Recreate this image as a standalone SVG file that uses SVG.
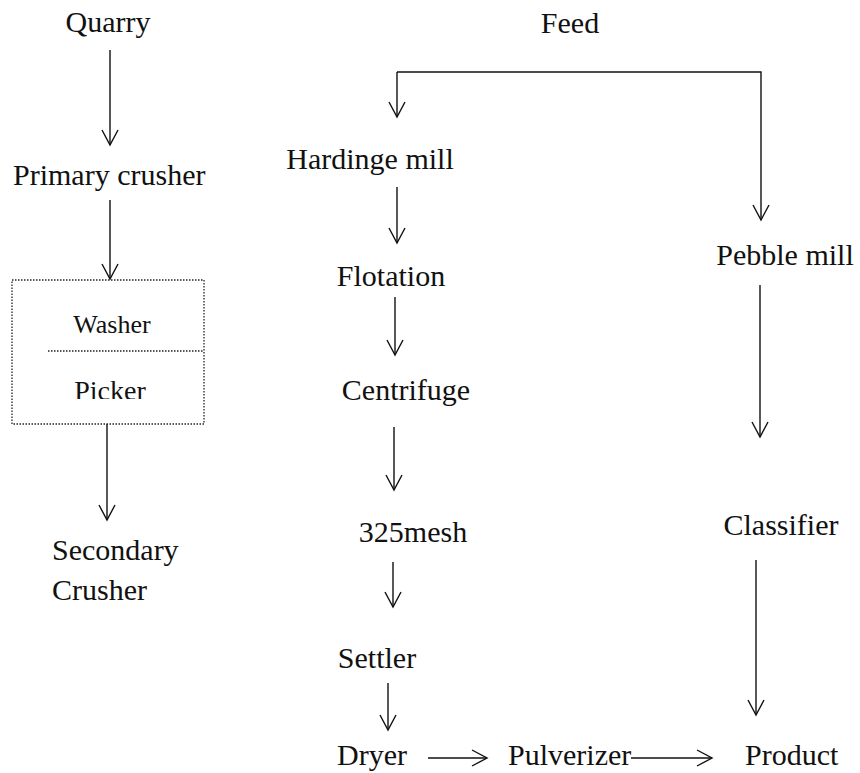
<svg xmlns="http://www.w3.org/2000/svg" width="860" height="773" viewBox="0 0 860 773">
<style>
text{font-family:"Liberation Serif","Times New Roman",serif;font-size:30px;fill:#111}
.m{text-anchor:middle}
.sm{font-size:26px}
.c{fill:none;stroke:#111;stroke-width:1.4;marker-end:url(#ah)}
.box{fill:none;stroke:#222;stroke-width:1.3;stroke-dasharray:1.5 1.5}
</style>
<defs>
<marker id="ah" markerUnits="userSpaceOnUse" viewBox="-17 -10 19 20" markerWidth="19" markerHeight="20" refX="0" refY="0" orient="auto">
<path d="M-15,-8 L0,0 L-15,8" fill="none" stroke="#111" stroke-width="1.4"/>
</marker>
<clipPath id="pk"><rect x="0" y="360" width="220" height="39"/></clipPath>
</defs>
<rect width="860" height="773" fill="#fff"/>
<g id="connectors">
<path class="c" d="M110,50 V145"/>
<path class="c" d="M110,200 V279"/>
<path class="c" d="M107,424 V520"/>
<path class="c" d="M397,72 V117"/>
<path class="c" d="M397,72 H761 V220"/>
<path class="c" d="M397,187 V243"/>
<path class="c" d="M395,297 V355"/>
<path class="c" d="M394,427 V490"/>
<path class="c" d="M393,562 V607"/>
<path class="c" d="M388,683 V730"/>
<path class="c" d="M428,758 H487"/>
<path class="c" d="M631,758 H712"/>
<path class="c" d="M760,285 V437"/>
<path class="c" d="M756,560 V715"/>
</g>
<g id="quarry"><text class="m" x="108" y="32">Quarry</text></g>
<g id="primary-crusher"><text x="13" y="185">Primary crusher</text></g>
<g id="washer-picker">
<rect class="box" x="12" y="280" width="192" height="144"/>
<line class="box" x1="48" y1="351" x2="204" y2="351"/>
<text class="m sm" x="112" y="333">Washer</text>
<text class="m" x="110" y="400" style="font-size:28px" clip-path="url(#pk)">Picker</text>
</g>
<g id="secondary-crusher"><text x="52" y="560">Secondary</text><text x="52" y="600">Crusher</text></g>
<g id="feed"><text class="m" x="570" y="33">Feed</text></g>
<g id="hardinge-mill"><text class="m" x="370" y="169">Hardinge mill</text></g>
<g id="flotation"><text class="m" x="391" y="286">Flotation</text></g>
<g id="centrifuge"><text class="m" x="406" y="400">Centrifuge</text></g>
<g id="mesh"><text class="m" x="413" y="542">325mesh</text></g>
<g id="settler"><text class="m" x="377" y="668">Settler</text></g>
<g id="dryer"><text x="337" y="765">Dryer</text></g>
<g id="pulverizer"><text x="508" y="765">Pulverizer</text></g>
<g id="product"><text x="745" y="765">Product</text></g>
<g id="pebble-mill"><text class="m" x="785" y="265">Pebble mill</text></g>
<g id="classifier"><text class="m" x="781" y="535">Classifier</text></g>
</svg>
